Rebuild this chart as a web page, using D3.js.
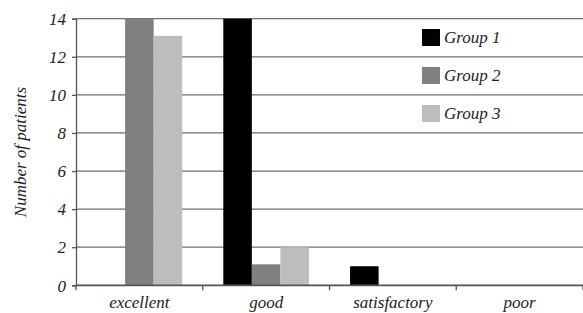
<!DOCTYPE html>
<html>
<head>
<meta charset="utf-8">
<script src="https://cdn.jsdelivr.net/npm/d3@7"></script>
</head>
<body style="margin:0;background:#fff">
<svg id="chart" width="583" height="313" font-family="Liberation Serif, Times New Roman, serif" font-style="italic"></svg>
<script>
const categories = ["excellent", "good", "satisfactory", "poor"];
const groups = ["Group 1", "Group 2", "Group 3"];
const group1 = [0, 14, 1, 0];
const group2 = [14, 1.1, 0, 0];
const group3 = [13.1, 2, 0, 0];
const yTicks = [0, 2, 4, 6, 8, 10, 12, 14];
const colors = ["#000000", "#808083", "#bcbdbf"];
const series = [group1, group2, group3];

const svg = d3.select("#chart");
const mLeft = 76, mRight = 583, mTop = 18.7, mBottom = 285.3;

function styleText(sel, size) {
  sel.attr("font-family", "Liberation Serif, Times New Roman, serif")
     .style("font-family", '"Liberation Serif", "Times New Roman", serif')
     .style("font-style", "italic")
     .style("font-size", size + "px").attr("fill", "#222");
}

const x0 = d3.scaleBand().domain(categories).range([mLeft, mRight]).padding(0);
const x1 = d3.scaleBand().domain(groups).range([0, x0.bandwidth()]).paddingInner(0).paddingOuter(0.72);
const y = d3.scaleLinear().domain([0, 14]).range([mBottom, mTop]);

// gridlines
svg.append("g").selectAll("line").data(yTicks.filter(d => d > 0)).join("line")
  .attr("x1", mLeft).attr("x2", mRight)
  .attr("y1", d => y(d)).attr("y2", d => y(d))
  .attr("stroke", "#6f6f6f").attr("stroke-width", 1.3);

// bars
const rows = categories.map((c, i) => groups.map((g, j) => ({c, g, v: series[j][i], color: colors[j]})));
svg.append("g").selectAll("g").data(rows).join("g")
  .attr("transform", d => `translate(${x0(d[0].c)},0)`)
  .selectAll("rect").data(d => d.filter(e => e.v > 0)).join("rect")
  .attr("x", d => x1(d.g)).attr("width", x1.bandwidth())
  .attr("y", d => y(d.v)).attr("height", d => y(0) - y(d.v))
  .attr("fill", d => d.color);

// y axis
const yAxis = d3.axisLeft(y).tickValues(yTicks).tickSize(4).tickPadding(6).tickFormat(d3.format("d"));
const ya = svg.append("g").attr("transform", `translate(${mLeft},0)`).call(yAxis);
ya.attr("font-family", "Liberation Serif, Times New Roman, serif").attr("font-size", 17);
ya.select(".domain").attr("stroke", "#555").attr("stroke-width", 1.3);
ya.selectAll(".tick line").attr("stroke", "#555").attr("stroke-width", 1.3);
styleText(ya.selectAll(".tick text").attr("dy", "0.34em"), 17);

// x axis
const xa = svg.append("g").attr("transform", `translate(0,${mBottom})`);
xa.append("line").attr("x1", mLeft).attr("x2", mRight).attr("stroke", "#555").attr("stroke-width", 1.8);
const bounds = categories.map(c => x0(c)).concat([mRight]);
xa.selectAll("line.tk").data(bounds).join("line").attr("class", "tk")
  .attr("x1", d => d).attr("x2", d => d).attr("y1", 0).attr("y2", 5)
  .attr("stroke", "#555").attr("stroke-width", 1.3);
styleText(xa.selectAll("text").data(categories).join("text")
  .attr("x", d => x0(d) + x0.bandwidth() / 2).attr("y", 22.5)
  .attr("text-anchor", "middle").text(d => d), 17);

// y title
styleText(svg.append("text").attr("transform", `translate(26,152) rotate(-90)`)
  .attr("text-anchor", "middle").text("Number of patients"), 17);

// legend
const lg = svg.append("g").selectAll("g").data(groups).join("g")
  .attr("transform", (d, i) => `translate(422,${29 + i * 38})`);
lg.append("rect").attr("width", 18).attr("height", 17).attr("fill", (d, i) => colors[i]);
styleText(lg.append("text").attr("x", 22).attr("y", 14).text(d => d), 17);
</script>
</body>
</html>
